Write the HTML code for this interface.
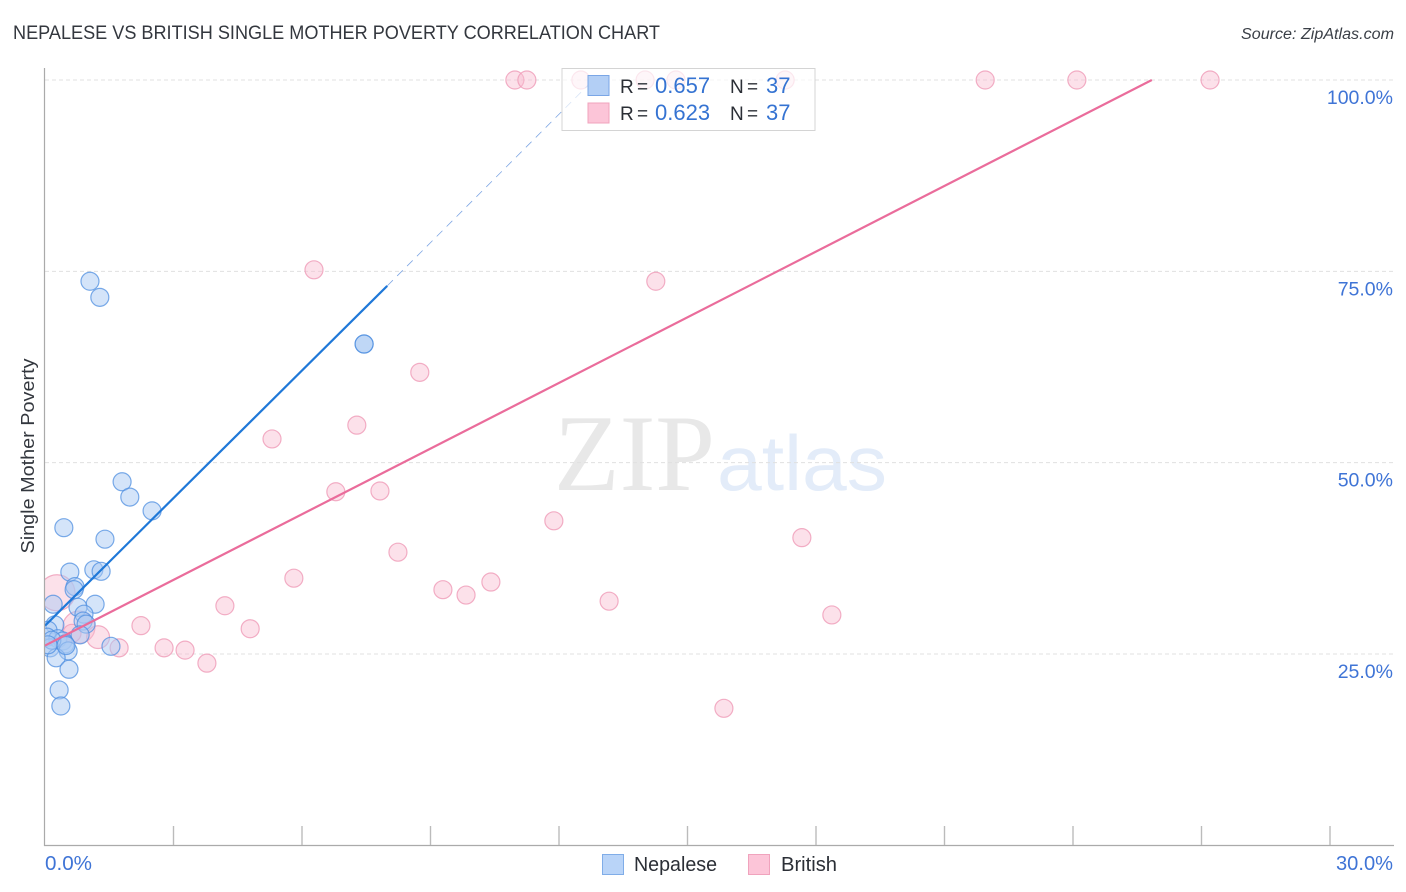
<!DOCTYPE html>
<html>
<head>
<meta charset="utf-8">
<style>
html,body{margin:0;padding:0;background:#fff;}
svg{display:block;font-family:"Liberation Sans",sans-serif;}
</style>
</head>
<body>
<svg id="chart" width="1406" height="892" viewBox="0 0 1406 892" xmlns="http://www.w3.org/2000/svg">
<defs><clipPath id="plot-clip"><rect x="45" y="60" width="1349" height="785"/></clipPath></defs>
<rect x="0" y="0" width="1406" height="892" fill="#ffffff"/>
<text x="13" y="39" font-size="19" fill="#33373e" textLength="647" lengthAdjust="spacingAndGlyphs">NEPALESE VS BRITISH SINGLE MOTHER POVERTY CORRELATION CHART</text>
<text x="1394" y="39" font-size="15.5" font-style="italic" fill="#3a3f47" text-anchor="end" textLength="153" lengthAdjust="spacingAndGlyphs">Source: ZipAtlas.com</text>
<g>
<text x="554" y="490" font-family="'Liberation Serif',serif" font-size="109" fill="#e8e8e8" textLength="161" lengthAdjust="spacingAndGlyphs">ZIP</text>
<text x="717" y="490" font-size="78" fill="#e3ecf9" textLength="170" lengthAdjust="spacingAndGlyphs">atlas</text>
</g>
<g id="grid"></g>
<g id="points-british" clip-path="url(#plot-clip)"></g>
<g id="points-nepalese" clip-path="url(#plot-clip)"></g>
<g id="trends"></g>
<line x1="44.5" y1="68" x2="44.5" y2="846" stroke="#aaaaaa" stroke-width="1.2"/>
<line x1="44" y1="845.5" x2="1394" y2="845.5" stroke="#aaaaaa" stroke-width="1.2"/>
<g id="x-ticks"></g>
<g id="y-labels"></g>
<text x="45" y="870" font-size="20" fill="#3f74d6" textLength="47" lengthAdjust="spacingAndGlyphs">0.0%</text>
<text x="1393" y="870" font-size="20" fill="#3f74d6" text-anchor="end" textLength="57" lengthAdjust="spacingAndGlyphs">30.0%</text>
<text transform="translate(34,456) rotate(-90)" font-size="18.5" fill="#33373e" text-anchor="middle" textLength="195" lengthAdjust="spacingAndGlyphs">Single Mother Poverty</text>
<g>
<rect x="562" y="68.5" width="253" height="62" fill="#ffffff" fill-opacity="0.7" stroke="#d4d4d4" stroke-width="1"/>
<rect x="588" y="75.5" width="21" height="20" fill="#b3cff5" stroke="#7aa6e6" stroke-width="1"/>
<rect x="588" y="103" width="21" height="20" fill="#fcc5d8" stroke="#f0a3bd" stroke-width="1"/>
<text y="93" font-size="19" word-spacing="-2" fill="#2b2f36"><tspan x="620">R =</tspan><tspan x="655" fill="#3573d2" font-size="22">0.657</tspan><tspan x="730">N =</tspan><tspan x="766" fill="#3573d2" font-size="22">37</tspan></text>
<text y="120" font-size="19" word-spacing="-2" fill="#2b2f36"><tspan x="620">R =</tspan><tspan x="655" fill="#3573d2" font-size="22">0.623</tspan><tspan x="730">N =</tspan><tspan x="766" fill="#3573d2" font-size="22">37</tspan></text>
</g>
<g>
<rect x="602.5" y="854.5" width="21" height="20" fill="#b9d4f8" stroke="#80ade8" stroke-width="1"/>
<text x="634" y="871" font-size="20" fill="#2b2f36" textLength="83" lengthAdjust="spacingAndGlyphs">Nepalese</text>
<rect x="748.5" y="854.5" width="21" height="20" fill="#fcc5d8" stroke="#f0a3bd" stroke-width="1"/>
<text x="781" y="871" font-size="20" fill="#2b2f36" textLength="56" lengthAdjust="spacingAndGlyphs">British</text>
</g>
</svg>
<script>
const yTickValues = [25, 50, 75, 100];
const yTickLabels = ["25.0%", "50.0%", "75.0%", "100.0%"];
const xTickValues = [3, 6, 9, 12, 15, 18, 21, 24, 27, 30];

const nepaleseX = [1.05,1.28,7.45,7.45,1.80,1.98,2.50,0.44,1.40,1.14,1.31,0.58,0.70,0.68,0.19,1.17,0.77,0.91,0.89,0.96,0.23,0.82,0.07,0.05,0.30,0.42,0.47,0.12,0.54,0.26,0.56,1.54,0.33,0.37,0.16,0.49,0.07];
const nepaleseY = [73.7,71.6,65.5,65.5,47.5,45.5,43.7,41.5,40.0,36.0,35.8,35.7,33.8,33.4,31.5,31.5,31.1,30.2,29.3,28.9,28.8,27.5,28.1,27.2,27.0,26.7,26.3,25.8,25.4,24.5,23.0,26.0,20.3,18.2,26.8,26.1,26.2];

const britishX = [10.97,11.25,12.51,14.01,14.73,17.28,21.95,24.09,27.2,6.28,14.26,8.75,7.28,5.30,6.79,7.82,11.88,17.67,8.24,5.81,10.41,9.29,9.83,13.17,4.20,18.37,2.24,4.79,1.73,2.78,3.27,3.78,15.85,0.28,0.79,1.24,0.63];
const britishY = [100,100,100,100,100,100,100,100,100,75.2,73.7,61.8,54.9,53.1,46.2,46.3,42.4,40.2,38.3,34.9,34.4,33.4,32.7,31.9,31.3,30.1,28.7,28.3,25.8,25.8,25.5,23.8,17.9,33.0,28.5,27.2,27.7];
const britishWeight = [1,1,1,1,1,1,1,1,1,1,1,1,1,1,1,1,1,1,1,1,1,1,1,1,1,1,1,1,1,1,1,1,1,4,3.2,1.6,1];

const nepaleseTrendX = [0, 7.99, 12.8];
const nepaleseTrendY = [28.7, 73.1, 100];
const britishTrendX = [0, 25.84];
const britishTrendY = [26.1, 100];

const NS = "http://www.w3.org/2000/svg";
function xScale(v) { return 45 + v * (1330 - 45) / 30; }
function yScale(v) { return 845.3 - v * 7.653; }
function radius(w) { return 9 * Math.sqrt(w); }
function make(tag, attrs, parent) {
  const el = document.createElementNS(NS, tag);
  Object.keys(attrs).forEach(function (k) { el.setAttribute(k, attrs[k]); });
  parent.appendChild(el);
  return el;
}

const grid = document.getElementById("grid");
yTickValues.forEach(function (v) {
  const gl = make("line", { x1: 45, x2: 1394, y1: yScale(v), y2: yScale(v), stroke: "#e0e0e0", "stroke-width": 1, "stroke-dasharray": "4 3" }, grid);
  
  
});

const xTicks = document.getElementById("x-ticks");
xTickValues.forEach(function (v) {
  const t = make("line", { x1: xScale(v), x2: xScale(v), y1: 826, y2: 845, stroke: "#bbbbbb", "stroke-width": 1.4 }, xTicks);
  
  
});

const yLabels = document.getElementById("y-labels");
yTickValues.forEach(function (v, i) {
  const t = make("text", { x: 1393, y: yScale(v) + 24, "font-size": 19.5, fill: "#3f74d6", "text-anchor": "end" }, yLabels);
  t.textContent = yTickLabels[i];
  
  
});

const britishGroup = document.getElementById("points-british");
britishX.forEach(function (v, i) {
  const c = make("circle", { cx: xScale(v), cy: yScale(britishY[i]), r: radius(britishWeight[i]), fill: "#f9bdd1", "fill-opacity": 0.45, stroke: "#f0a0bb", "stroke-opacity": 0.85, "stroke-width": 1.2 }, britishGroup);
  
  
});

const nepaleseGroup = document.getElementById("points-nepalese");
nepaleseX.forEach(function (v, i) {
  const c = make("circle", { cx: xScale(v), cy: yScale(nepaleseY[i]), r: 9, fill: "#a9c9f3", "fill-opacity": 0.5, stroke: "#4f8fe0", "stroke-opacity": 0.75, "stroke-width": 1.2 }, nepaleseGroup);
  
  
});

const trends = document.getElementById("trends");
const blueSolid = make("line", { x1: xScale(nepaleseTrendX[0]), y1: yScale(nepaleseTrendY[0]), x2: xScale(nepaleseTrendX[1]), y2: yScale(nepaleseTrendY[1]), stroke: "#1f78d8", "stroke-width": 2.2 }, trends);


const blueDash = make("line", { x1: xScale(nepaleseTrendX[1]), y1: yScale(nepaleseTrendY[1]), x2: xScale(nepaleseTrendX[2]), y2: yScale(nepaleseTrendY[2]), stroke: "#7ea6e4", "stroke-width": 0.8, "stroke-dasharray": "8 6" }, trends);


const pinkSolid = make("line", { x1: xScale(britishTrendX[0]), y1: yScale(britishTrendY[0]), x2: xScale(britishTrendX[1]), y2: yScale(britishTrendY[1]), stroke: "#ea6c9b", "stroke-width": 2.2 }, trends);


</script>
</body>
</html>
